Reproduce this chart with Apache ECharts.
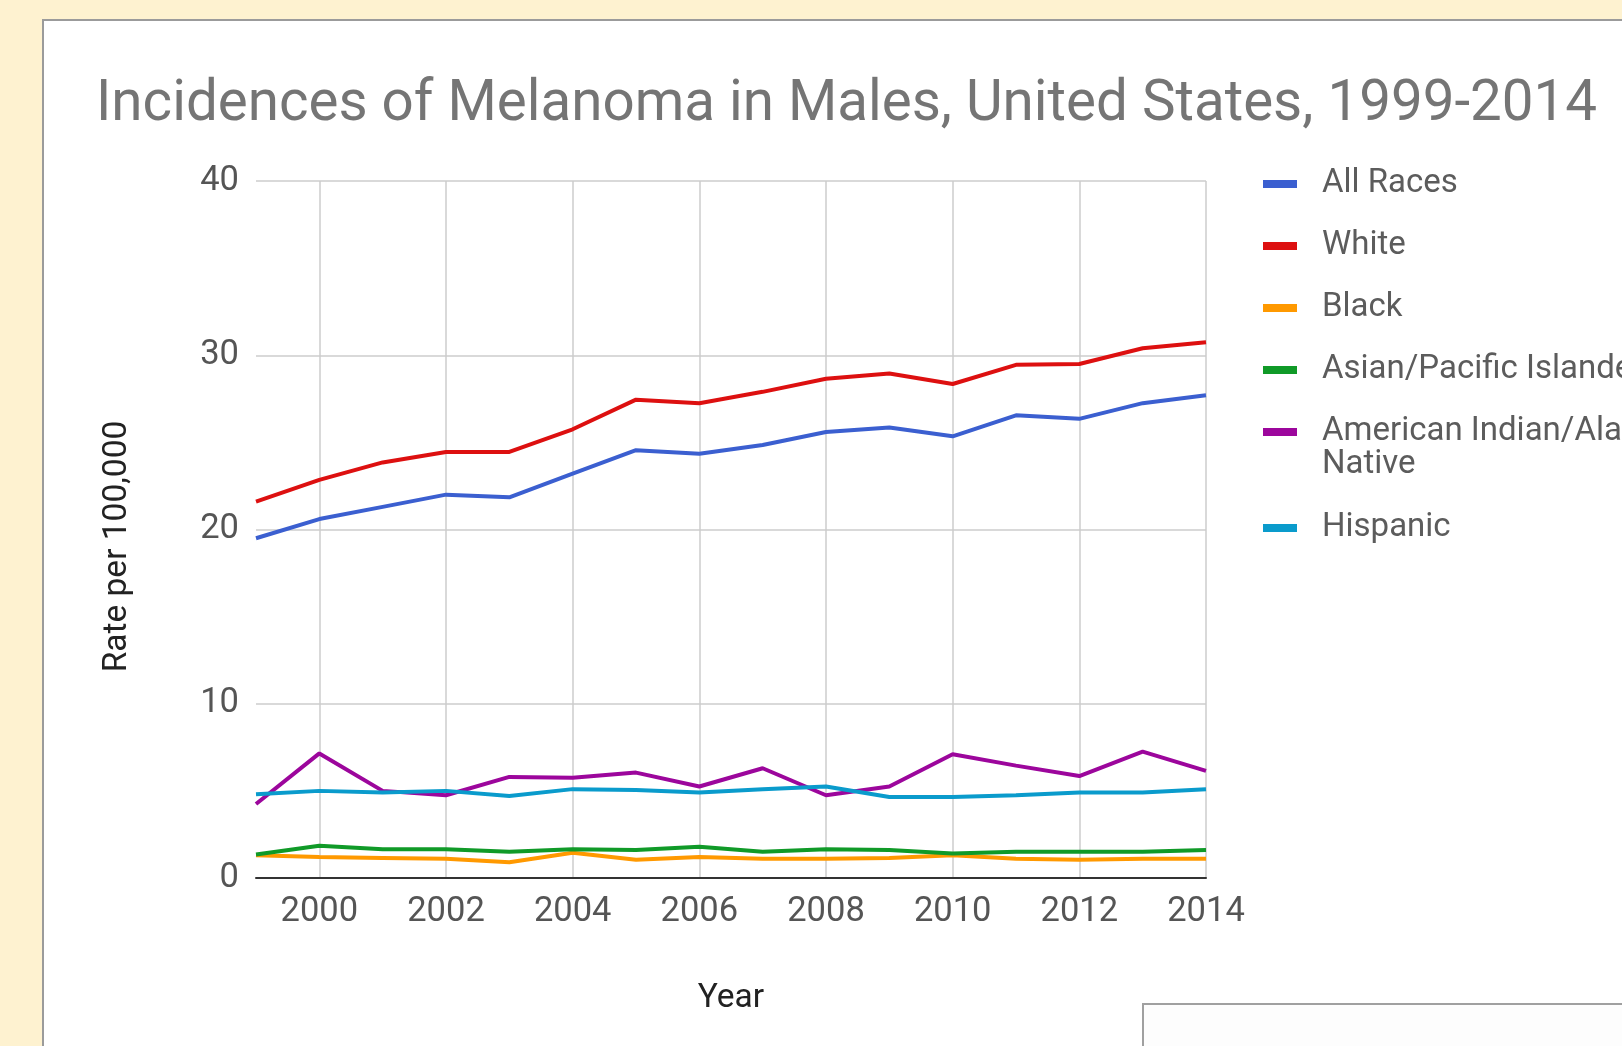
<!DOCTYPE html>
<html>
<head>
<meta charset="utf-8">
<script src="https://cdn.jsdelivr.net/npm/echarts@6/dist/echarts.min.js"></script>
<style>
  html, body { margin: 0; padding: 0; width: 1622px; height: 1046px; overflow: hidden; background: #fef2d0; }
  #card { position: absolute; left: 42px; top: 19px; width: 1700px; height: 1100px; background: #ffffff; border: 2px solid #9b9b9b; box-sizing: border-box; }
  #box2 { position: absolute; left: 1142px; top: 1003px; width: 600px; height: 100px; background: #fdfdfd; border: 2px solid #a0a0a0; box-sizing: border-box; }
  #chart { position: absolute; left: 0; top: 0; width: 1622px; height: 1046px; }
</style>
</head>
<body>
<div id="card"></div>
<div id="box2"></div>
<div id="chart"></div>
<script>
const years = ['1999','2000','2001','2002','2003','2004','2005','2006','2007','2008','2009','2010','2011','2012','2013','2014'];
const allRaces = [19.5, 20.6, 21.3, 22.0, 21.85, 23.2, 24.55, 24.35, 24.85, 25.6, 25.85, 25.35, 26.55, 26.35, 27.25, 27.7];
const white    = [21.6, 22.85, 23.85, 24.45, 24.45, 25.75, 27.45, 27.25, 27.9, 28.65, 28.95, 28.35, 29.45, 29.5, 30.4, 30.75];
const black    = [1.3, 1.2, 1.15, 1.1, 0.9, 1.45, 1.05, 1.2, 1.1, 1.1, 1.15, 1.3, 1.1, 1.05, 1.1, 1.1];
const asianPI  = [1.35, 1.85, 1.65, 1.65, 1.5, 1.65, 1.6, 1.8, 1.5, 1.65, 1.6, 1.4, 1.5, 1.5, 1.5, 1.6];
const aian     = [4.25, 7.15, 5.0, 4.75, 5.8, 5.75, 6.05, 5.25, 6.3, 4.75, 5.25, 7.1, 6.45, 5.85, 7.25, 6.15];
const hispanic = [4.8, 5.0, 4.9, 5.0, 4.7, 5.1, 5.05, 4.9, 5.1, 5.25, 4.65, 4.65, 4.75, 4.9, 4.9, 5.1];
const seriesNames = ['All Races', 'White', 'Black', 'Asian/Pacific Islander', 'American Indian/Alaska Native', 'Hispanic'];
const seriesData = [allRaces, white, black, asianPI, aian, hispanic];
const colors = ['#3b5fd0', '#dd1010', '#ff9900', '#109a28', '#9c069c', '#0a9bcc'];
const yTicks = { min: 0, max: 40, interval: 10 };
const titleText = 'Incidences of Melanoma in Males, United States, 1999-2014';

const FONT = 'Roboto';
const chart = echarts.init(document.getElementById('chart'), null, { renderer: 'canvas' });

const legendText = { color: '#5c5c5c', fontFamily: FONT, fontSize: 33, lineHeight: 36, padding: [0, 0, 0, 20] };

chart.setOption({
  backgroundColor: 'transparent',
  color: colors,
  animation: false,
  title: {
    text: titleText,
    left: 96,
    top: 76,
    padding: 0,
    textStyle: { color: '#757575', fontFamily: FONT, fontSize: 56.5, fontWeight: 'normal', lineHeight: 60 }
  },
  legend: [
    {
      orient: 'vertical',
      left: 1263,
      top: 166,
      padding: 0,
      itemWidth: 34,
      itemHeight: 8,
      itemGap: 26,
      icon: 'rect',
      data: seriesNames.slice(0, 5),
      formatter: function (name) { return name === 'American Indian/Alaska Native' ? 'American Indian/Alaska' : name; },
      textStyle: legendText,
      selectedMode: false
    },
    {
      orient: 'vertical',
      left: 1263,
      top: 510,
      padding: 0,
      itemWidth: 34,
      itemHeight: 8,
      icon: 'rect',
      data: seriesNames.slice(5),
      textStyle: legendText,
      selectedMode: false
    }
  ],
  graphic: [
    {
      type: 'text',
      left: 1322,
      top: 448,
      style: { text: 'Native', fill: '#5c5c5c', font: '33px Roboto' }
    }
  ],
  grid: { left: 256, right: 416, top: 181, bottom: 168, containLabel: false },
  xAxis: {
    type: 'category',
    data: years,
    boundaryGap: false,
    name: 'Year',
    nameLocation: 'middle',
    nameGap: 104,
    nameTextStyle: { color: '#222222', fontFamily: FONT, fontSize: 33.5 },
    axisLine: { show: true, lineStyle: { color: '#333333', width: 2 } },
    axisTick: { show: false },
    axisLabel: {
      interval: function (i, v) { return Number(v) % 2 === 0; },
      color: '#555555', fontFamily: FONT, fontSize: 34.5, margin: 17
    },
    splitLine: {
      show: true,
      interval: function (i, v) { return Number(v) % 2 === 0; },
      lineStyle: { color: '#cccccc', width: 1.5 }
    }
  },
  yAxis: {
    type: 'value',
    min: yTicks.min,
    max: yTicks.max,
    interval: yTicks.interval,
    name: 'Rate per 100,000',
    nameLocation: 'middle',
    nameRotate: 90,
    nameGap: 121,
    nameTextStyle: { color: '#222222', fontFamily: FONT, fontSize: 33.5, padding: [0, 34, 0, 0] },
    axisLine: { show: false },
    axisTick: { show: false },
    axisLabel: { color: '#555555', fontFamily: FONT, fontSize: 34.5, margin: 17 },
    splitLine: { show: true, lineStyle: { color: '#cccccc', width: 1.5 } }
  },
  series: seriesNames.map(function (n, i) {
    return {
      name: n,
      type: 'line',
      data: seriesData[i],
      symbol: 'none',
      lineStyle: { width: 4, color: colors[i] },
      itemStyle: { color: colors[i] },
      emphasis: { disabled: true }
    };
  })
});
</script>
</body>
</html>
